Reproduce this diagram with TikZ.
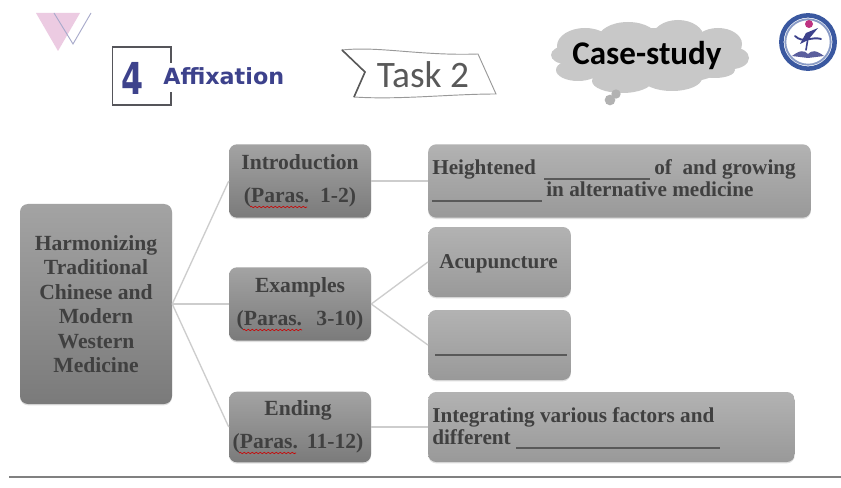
\documentclass[tikz,border=0pt]{standalone}
\usepackage{fontspec}
\setmainfont{Liberation Serif}
\newfontfamily\headfont{DejaVu Sans}
\newfontfamily\taskfont{Carlito}
\usetikzlibrary{shadows,decorations.pathmorphing}
\definecolor{inkblue}{RGB}{61,66,140}
\definecolor{sealblue}{RGB}{58,88,160}
\definecolor{framegray}{RGB}{85,85,90}
\definecolor{linkgray}{RGB}{205,205,205}
\definecolor{markpink}{RGB}{236,203,226}
\definecolor{cloudgray}{RGB}{200,200,200}
\tikzset{
  darkbox/.style={rounded corners=6pt, top color=black!36, bottom color=black!52, draw=none,
    drop shadow={shadow xshift=0pt, shadow yshift=-1pt, opacity=.25},
    text=black!75, font=\bfseries\fontsize{16.2}{18.4}\selectfont, align=center, inner sep=0pt},
  lightbox/.style={darkbox, top color=black!30, bottom color=black!40},
  link/.style={draw=linkgray, line width=1pt},
  spell/.style={draw=red!80!black, line width=.5pt, decorate, decoration={snake, amplitude=.5pt, segment length=3pt}},
  blank/.style={draw=black!65, line width=.8pt}
}
\begin{document}
\begin{tikzpicture}[x=.75pt, y=-.75pt]
  \useasboundingbox [fill=white] (0,0) rectangle (841,488);

  % corner marks
  \fill [markpink] (36,13) -- (80,13) -- (58,51) -- cycle;
  \draw [inkblue!45, line width=.7pt] (54,13) -- (73,44) -- (91,13);

  % heading
  \draw [framegray, line width=1.4pt] (171,63) -- (171,47) -- (112.5,47) -- (112.5,105) -- (171,105) -- (171,92);
  \node (four) at (133,78) {\headfont\bfseries\color{inkblue}\fontsize{33}{33}\selectfont\scalebox{.72}[1]{4}};
  \node [anchor=west, inner sep=0pt, text=inkblue] (affix) at (163,76) {\headfont\bfseries\fontsize{16.7}{16.7}\selectfont Affixation};

  % task ribbon
  \draw [black!40, line width=.7pt, fill=white] (342,50) .. controls (380,46) and (420,56) .. (478,54) -- (496,94) .. controls (450,94) and (400,100) .. (354,97) -- (365,72) -- cycle;
  \draw [black!65, line width=1.2pt] (342,50) -- (365,72) -- (354,97);
  \node [text=black!65] (task) at (423,75) {\taskfont\fontsize{28}{28}\selectfont Task 2};

  % cloud
  \fill [cloudgray] (650,57) ellipse (85 and 29);
  \fill [cloudgray] (585,46) ellipse (28 and 18);
  \fill [cloudgray] (566,55) ellipse (15 and 9);
  \fill [cloudgray] (578,70) ellipse (22 and 11);
  \fill [cloudgray] (628,39) ellipse (30 and 17);
  \fill [cloudgray] (678,38) ellipse (26 and 18);
  \fill [cloudgray] (718,44) ellipse (24 and 16);
  \fill [cloudgray] (732,58) ellipse (17 and 11);
  \fill [cloudgray] (715,70) ellipse (20 and 8);
  \fill [cloudgray] (672,78) ellipse (30 and 13);
  \fill [cloudgray] (622,81) ellipse (30 and 12);
  \node [inner sep=0pt] (case) at (647,56) {\taskfont\bfseries\fontsize{24.8}{24.8}\selectfont Case-study};
  \node [circle, fill=black!30, minimum size=7pt, inner sep=0pt] (puffa) at (616,94) {};
  \node [circle, fill=black!30, minimum size=8pt, inner sep=0pt] (puffb) at (610,100) {};

  % seal
  \begin{scope}
    \clip (770,13) rectangle (841,80);
    \node [circle, draw=sealblue, line width=3.4pt, fill=white, minimum size=40pt, inner sep=0pt] (seal) at (808,42) {};
    \node [circle, draw=sealblue!60, line width=1.4pt, minimum size=34pt, inner sep=0pt] (sealin) at (808,42) {};
  \end{scope}
  \fill [magenta!75!black] (809,24) circle (4);
  \fill [inkblue] (818,28) -- (806,33) -- (800,44) -- (808,40) -- cycle;
  \draw [inkblue, line width=1.4pt, line cap=round] (795,36) .. controls (803,44) and (812,36) .. (821,39);
  \draw [inkblue, line width=1.2pt, line cap=round] (808,38) -- (806,50);
  \fill [inkblue!85] (792,56) .. controls (800,50) and (804,50) .. (808,54) .. controls (812,50) and (816,50) .. (824,56) -- (808,58) -- cycle;

  % boxes
  \node [darkbox, minimum width=114pt, minimum height=150pt] (root) at (96,304) {Harmonizing\\Traditional\\Chinese and\\Modern\\Western\\Medicine};
  \node [darkbox, minimum width=106.5pt, minimum height=55pt] (intro) at (300,181) {Introduction\\[6pt](Paras.\ \ 1-2)};
  \node [darkbox, minimum width=106.5pt, minimum height=55pt] (examples) at (300,304) {Examples\\[6pt](Paras.\ \ \,3-10)};
  \node [darkbox, minimum width=106.5pt, minimum height=53pt] (ending) at (300,427) {Ending\hspace*{3pt}\\[6pt](Paras.\ \,11-12)\hspace*{3pt}};

  \node [lightbox, minimum width=287pt, minimum height=55pt] (heightened) at (619.5,181) {};
  \node [lightbox, minimum width=107pt, minimum height=52.5pt] (acu) at (499.5,262) {};
  \node [lightbox, minimum width=107pt, minimum height=52.5pt] (other) at (499.5,345) {};
  \node [lightbox, minimum width=275pt, minimum height=52.5pt] (integrating) at (611.5,427) {};

  % box texts
  \tikzset{fill text/.style={anchor=base west, inner sep=0pt, text=black!75, font=\bfseries\fontsize{15.9}{15.9}\selectfont}}
  \node [fill text] (ha) at (432,175) {Heightened};
  \node [fill text] (hb) at (654,175) {of\ \ and growing};
  \node [fill text] (hc) at (546,197) {in alternative medicine};
  \node [fill text] (ia) at (432,422) {Integrating various factors and};
  \node [fill text] (ib) at (432,444) {different};
  \node [fill text] (acutext) at (439,268) {Acupuncture};

  % blanks
  \coordinate (b1a) at (544,179); \coordinate (b1b) at (650,179);
  \coordinate (b2a) at (432,201); \coordinate (b2b) at (542,201);
  \coordinate (b3a) at (435,355); \coordinate (b3b) at (567,355);
  \coordinate (b4a) at (516,448); \coordinate (b4b) at (720,448);
  \draw [blank] (b1a) -- (b1b);
  \draw [blank] (b2a) -- (b2b);
  \draw [blank] (b3a) -- (b3b);
  \draw [blank] (b4a) -- (b4b);

  % spelling marks
  \coordinate (s1a) at (250,207); \coordinate (s1b) at (307,207);
  \coordinate (s2a) at (243,330); \coordinate (s2b) at (302,330);
  \coordinate (s3a) at (239,453); \coordinate (s3b) at (296,453);
  \draw [spell] (s1a) -- (s1b);
  \draw [spell] (s2a) -- (s2b);
  \draw [spell] (s3a) -- (s3b);

  % links
  \draw [link] (root.east) -- (intro.west);
  \draw [link] (root.east) -- (examples.west);
  \draw [link] (root.east) -- (ending.west);
  \draw [link] (intro.east) -- (heightened.west);
  \draw [link] (examples.east) -- (acu.west);
  \draw [link] (examples.east) -- (other.west);
  \draw [link] (ending.east) -- (integrating.west);

  % bottom rule
  \coordinate (rulea) at (9,477); \coordinate (ruleb) at (841,477);
  \draw [black!50, line width=1.6pt] (rulea) -- (ruleb);
\end{tikzpicture}
\end{document}
